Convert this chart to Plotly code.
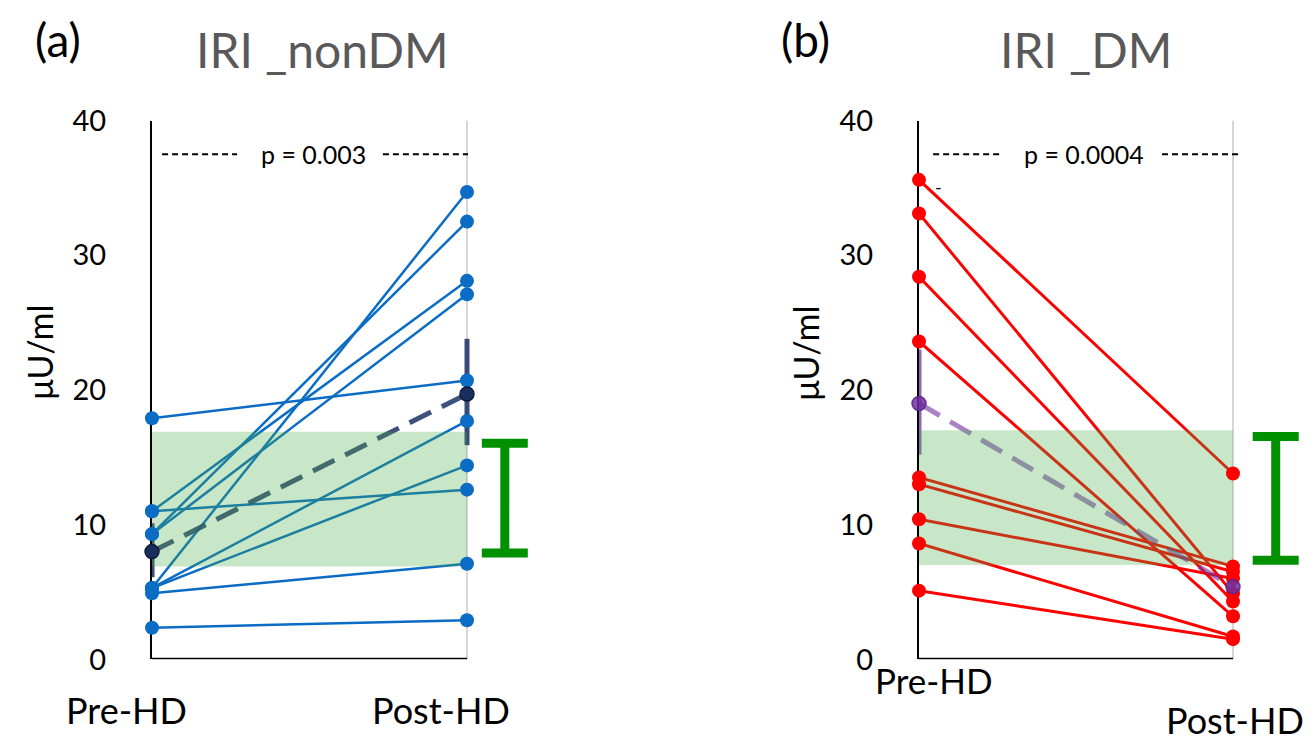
import plotly.graph_objects as go

# ---------------- data ----------------
categories = ["Pre-HD", "Post-HD"]
x_pos = [0, 1]
y_ticks = [0, 10, 20, 30, 40]

nondm_pre = [17.9, 11.0, 11.0, 9.3, 9.3, 5.3, 5.3, 5.3, 4.9, 2.35]
nondm_post = [20.7, 12.6, 28.1, 32.5, 27.1, 34.7, 17.7, 14.4, 7.1, 2.9]
nondm_mean = [8.0, 19.7]
nondm_err_minus = [1.9, 3.8]
nondm_err_plus = [2.1, 4.1]

dm_pre = [35.6, 33.1, 28.4, 23.6, 13.5, 13.0, 10.4, 8.6, 5.1]
dm_post = [13.8, 4.9, 4.3, 3.2, 6.9, 6.5, 6.0, 1.7, 1.5]
dm_mean = [19.0, 5.4]
dm_err_minus = [3.8, 1.2]
dm_err_plus = [4.0, 1.2]

band_nondm = [6.9, 16.9]
band_dm = [7.0, 17.0]
ref_nondm = [7.9, 16.05]
ref_dm = [7.35, 16.55]

p_nondm = "p = 0.003"
p_dm = "p = 0.0004"
p_level = 37.5

titles = ["IRI _nonDM", "IRI _DM"]
letters = ["(a)", "(b)"]
y_title = "μU/ml"

# ---------------- layout helpers ----------------
W, H = 1315, 755
FONT = "Lato"


def px(x):
    return x / W


def py(y):
    return 1 - y / H


fig = go.Figure()


def add_panel(xa, ya, pre, post, mean, em, ep, band, ref, ref_x,
              col, lw, mean_line_col, mean_mark_col, mean_edge, err_col):
    xs, ys = [], []
    for a, b in zip(pre, post):
        xs += [x_pos[0], x_pos[1], None]
        ys += [a, b, None]
    common = dict(xaxis=xa, yaxis=ya, showlegend=False, hoverinfo="skip")
    fig.add_trace(go.Scatter(x=xs, y=ys, mode="lines",
                             line=dict(color=col, width=lw), **common))
    fig.add_trace(go.Scatter(x=x_pos, y=mean, mode="lines",
                             line=dict(color=mean_line_col, width=5, dash="24px,12px"),
                             error_y=dict(type="data", symmetric=False, array=ep,
                                          arrayminus=em, color=err_col,
                                          thickness=5, width=0),
                             **common))
    fig.add_trace(go.Scatter(x=[x_pos[0], x_pos[1], x_pos[1], x_pos[0], x_pos[0]],
                             y=[band[0], band[0], band[1], band[1], band[0]],
                             mode="lines", fill="toself",
                             fillcolor="rgba(72,172,72,0.30)",
                             line=dict(width=0), **common))
    n = len(pre)
    fig.add_trace(go.Scatter(x=[x_pos[0]] * n + [x_pos[1]] * n, y=pre + post,
                             mode="markers", cliponaxis=False,
                             marker=dict(size=14, color=col), **common))
    fig.add_trace(go.Scatter(x=x_pos, y=mean, mode="markers", cliponaxis=False,
                             marker=dict(size=14, color=mean_mark_col,
                                         line=dict(color=mean_edge, width=1.5)),
                             **common))
    fig.add_trace(go.Scatter(x=[ref_x], y=[(ref[0] + ref[1]) / 2], mode="markers",
                             marker=dict(size=1, color="rgba(0,0,0,0)"),
                             error_y=dict(type="data", array=[(ref[1] - ref[0]) / 2],
                                          color="#009000", thickness=9, width=23),
                             **common))


add_panel("x", "y", nondm_pre, nondm_post, nondm_mean, nondm_err_minus, nondm_err_plus,
          band_nondm, ref_nondm, 1.12, "#0A6CC4", 2.5,
          "rgba(40,62,110,0.9)", "#1B2F5E", "#0d1a3a", "rgba(45,65,115,0.95)")
add_panel("x2", "y2", dm_pre, dm_post, dm_mean, dm_err_minus, dm_err_plus,
          band_dm, ref_dm, 1.136, "#FF0000", 3,
          "rgba(112,48,160,0.6)", "rgba(112,48,160,0.85)", "rgba(90,40,140,0.9)",
          "rgba(112,48,160,0.75)")

Y_TOP, Y_BOT = 106.5, 671.5

yax = dict(range=[0, 40], tickvals=y_ticks, showgrid=False, zeroline=False,
           showline=True, linecolor="black", linewidth=2, ticks="",
           tickfont=dict(family=FONT, size=29, color="black"),
           ticklabelstandoff=38, layer="below traces",
           domain=[py(Y_BOT), py(Y_TOP)])

fig.update_layout(
    width=W, height=H, autosize=False,
    margin=dict(l=0, r=0, t=0, b=0),
    paper_bgcolor="white", plot_bgcolor="white",
    xaxis=dict(domain=[px(152), px(560)], range=[0, 408 / 315], visible=False,
               anchor="y"),
    yaxis=dict(anchor="x", **yax),
    xaxis2=dict(domain=[px(919), 1.0], range=[0, 396 / 314], visible=False,
                anchor="y2"),
    yaxis2=dict(anchor="x2", **yax),
)

shapes = []
for xr, yr in (("x", "y"), ("x2", "y2")):
    shapes.append(dict(type="line", xref=xr, yref=yr, x0=x_pos[1], x1=x_pos[1],
                       y0=0, y1=40, line=dict(color="#d6d6d6", width=2), layer="below"))
    shapes.append(dict(type="line", xref=xr, yref=yr, x0=x_pos[0], x1=x_pos[1],
                       y0=0, y1=0, line=dict(color="black", width=3), layer="above"))

# p-value dashed brackets
for xr, yr, segs in (("x", "y", [(0.032, 0.27), (0.733, 1.003)]),
                     ("x2", "y2", [(0.045, 0.264), (0.774, 1.022)])):
    for a, b in segs:
        shapes.append(dict(type="line", xref=xr, yref=yr, x0=a, x1=b,
                           y0=p_level, y1=p_level,
                           line=dict(color="black", width=1.8, dash="6px,4px")))
fig.update_layout(shapes=shapes)

ann = []


def A(text, x, y, size, color="black", yanchor="middle", **kw):
    ann.append(dict(text=text, x=px(x), y=py(y), xref="paper", yref="paper",
                    showarrow=False, xanchor="center", yanchor=yanchor,
                    font=dict(family=FONT, size=size, color=color), **kw))


A(letters[0], 58, 22, 46)
A(letters[1], 806, 22, 46)
A(titles[0], 322, 32, 48, "#595959")
A(titles[1], 1086, 32, 48, "#595959")
A(p_nondm, 313, 142, 25)
A(p_dm, 1084, 142, 25)
A(categories[0], 126, 725, 36)
A(categories[1], 441, 725, 36)
A(categories[0], 934, 693, 35)
A(categories[1], 1235, 760, 36, yanchor="bottom")
A(y_title, 40, 350, 34, textangle=-90)
A(y_title, 806, 350, 34, textangle=-90)
A("-", 938, 176, 18)
fig.update_layout(annotations=ann)

fig.write_html("out.html")
